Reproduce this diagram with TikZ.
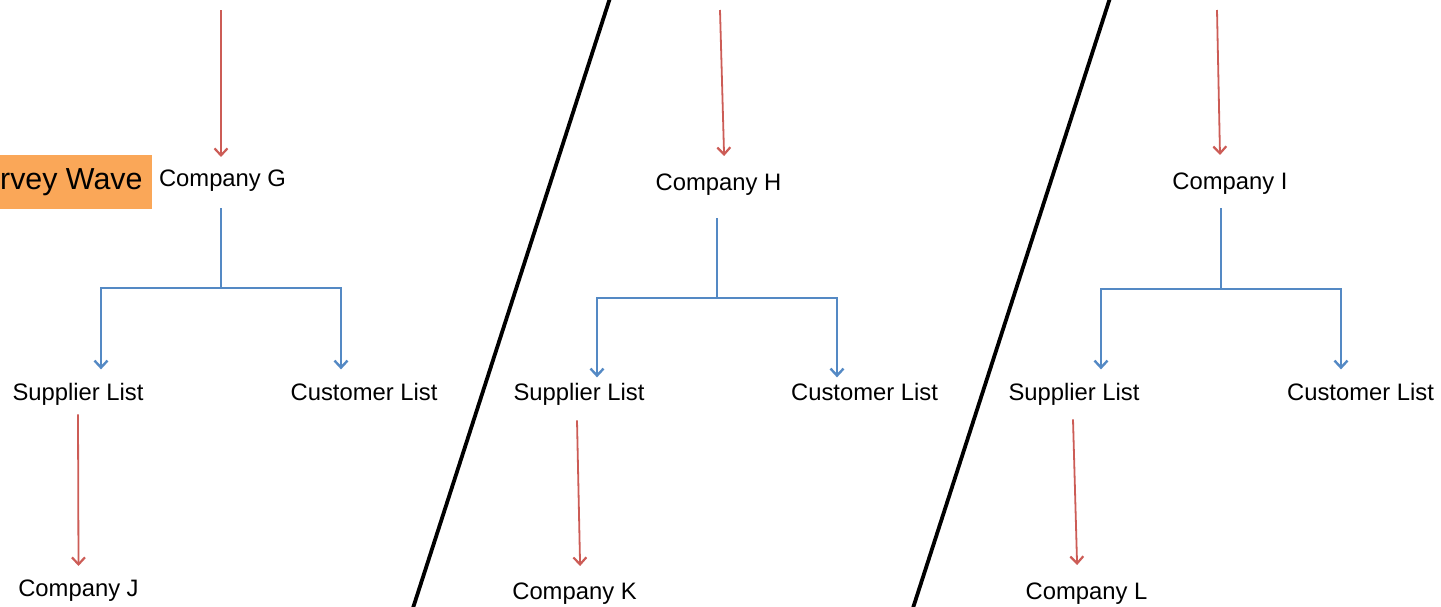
\documentclass[tikz,border=0pt]{standalone}
\usepackage{fontspec}
\setmainfont{Liberation Sans}
\usetikzlibrary{arrows.meta}
\definecolor{linkred}{RGB}{204,92,86}
\definecolor{linkblue}{RGB}{84,137,196}
\definecolor{waveorange}{RGB}{250,167,88}
\begin{document}
\begin{tikzpicture}[x=0.5pt,y=-0.5pt,
  lbl/.style={font=\fontsize{11.9}{14}\selectfont, inner sep=0pt, anchor=base},
  chain/.style={draw=linkred, line width=0.9pt, -{Straight Barb[length=3.5pt,width=6.5pt,line width=1.1pt]}},
  tree/.style={draw=linkblue, line width=1.1pt, -{Straight Barb[length=3.5pt,width=6.5pt,line width=1.2pt]}},
  divider/.style={draw=black, line width=1.9pt},
  wavebox/.style={fill=waveorange, font=\fontsize{15.2}{18}\selectfont, anchor=east,
    inner xsep=4.5pt, minimum height=27pt}]
\useasboundingbox (0,0) rectangle (1441,606);

% section dividers
\draw[divider] (610,-2) -- (413,608);
\draw[divider] (1110,-2) -- (913,608);

% wave label
\node[wavebox] (wave) at (152,182) {Survey Wave};

% ---- first company tree ----
\coordinate (inG) at (221,10);
\node[lbl] (G) at (222.5,186) {Company G};
\node[lbl] (supG) at (78,400) {Supplier List};
\node[lbl] (cusG) at (364,400) {Customer List};
\node[lbl] (J) at (78.5,596) {Company J};
\coordinate (jG) at (221,288);
\draw[chain, shorten >=6pt] (inG) -- (G.north -| inG);
\draw[tree, -] ([yshift=-8.5pt,xshift=-0.75pt]G.south) -- (jG);
\draw[tree] (jG) -| ([xshift=11.5pt,yshift=6.5pt]supG.north);
\draw[tree] (jG) -| ([xshift=-11.5pt,yshift=6.5pt]cusG.north);
\draw[chain] ([yshift=-4.5pt]supG.south) -- ([yshift=6.5pt]J.north);

% ---- second company tree ----
\coordinate (inH) at (720,10);
\node[lbl] (H) at (718.5,190) {Company H};
\node[lbl] (supH) at (579,400) {Supplier List};
\node[lbl] (cusH) at (864.5,400) {Customer List};
\node[lbl] (K) at (574.5,599) {Company K};
\coordinate (jH) at (717,298);
\draw[chain] (inH) -- ([xshift=2.8pt,yshift=8.5pt]H.north);
\draw[tree, -] ([yshift=-11.5pt,xshift=-0.75pt]H.south) -- (jH);
\draw[tree] (jH) -| ([xshift=9pt,yshift=2.5pt]supH.north);
\draw[tree] (jH) -| ([xshift=-13.75pt,yshift=2.5pt]cusH.north);
\draw[chain] ([xshift=-1pt,yshift=-7.5pt]supH.south) -- ([xshift=2.8pt,yshift=8pt]K.north);

% ---- third company tree ----
\coordinate (inI) at (1217,10);
\node[lbl] (I) at (1230,189) {Company I};
\node[lbl] (supI) at (1074,400) {Supplier List};
\node[lbl] (cusI) at (1360.5,400) {Customer List};
\node[lbl] (L) at (1086.5,599) {Company L};
\coordinate (jI) at (1221,289);
\draw[chain] (inI) -- ([xshift=-5pt,yshift=8.5pt]I.north);
\draw[tree, -] ([yshift=-7pt,xshift=-4.5pt]I.south) -- (jI);
\draw[tree] (jI) -| ([xshift=13.5pt,yshift=6.5pt]supI.north);
\draw[tree] (jI) -| ([xshift=-9.75pt,yshift=6.5pt]cusI.north);
\draw[chain] ([xshift=-0.5pt,yshift=-7pt]supI.south) -- ([xshift=-4.7pt,yshift=8.5pt]L.north);
\end{tikzpicture}
\end{document}
